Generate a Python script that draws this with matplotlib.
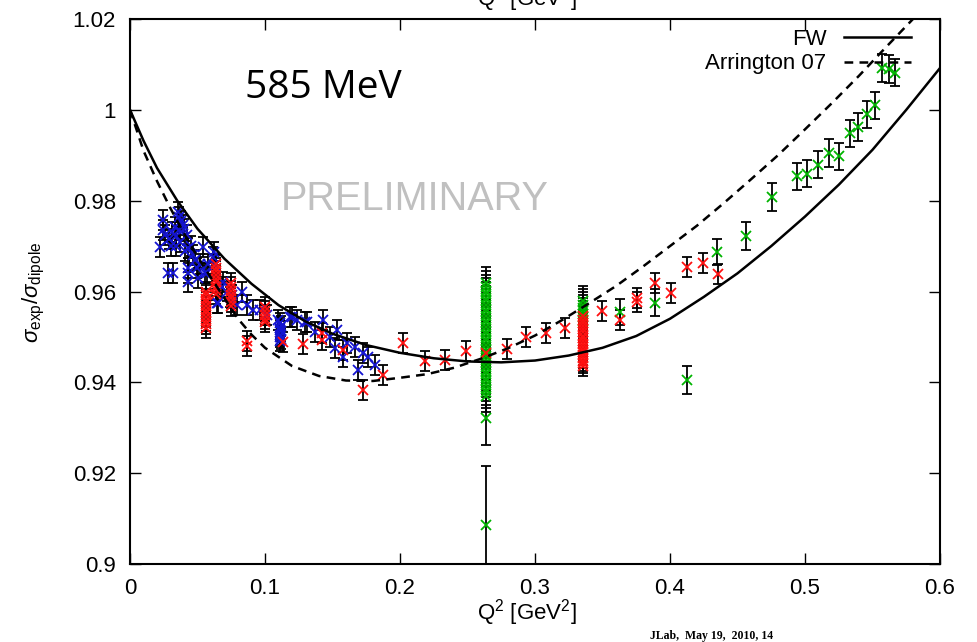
import numpy as np
import matplotlib
matplotlib.use("Agg")
import matplotlib.pyplot as plt

plt.rcParams['font.family'] = ['Liberation Sans', 'DejaVu Sans']
plt.rcParams['mathtext.fontset'] = 'custom'
plt.rcParams['mathtext.rm'] = 'Liberation Sans'
plt.rcParams['mathtext.it'] = 'Liberation Sans:italic'

# model curves
fw_q2 = [0, 0.01, 0.02, 0.035, 0.05, 0.07, 0.09, 0.11, 0.13, 0.15, 0.175, 0.2, 0.225,
         0.25, 0.275, 0.3, 0.325, 0.35, 0.375, 0.4, 0.425, 0.45, 0.475, 0.5, 0.525,
         0.55, 0.575, 0.6]
fw_r = [1.0, 0.9932, 0.9872, 0.9800, 0.9738, 0.9672, 0.9617, 0.9570, 0.9534, 0.9507,
        0.9482, 0.9465, 0.9453, 0.9446, 0.9444, 0.9448, 0.9459, 0.9476, 0.9502, 0.9540,
        0.9588, 0.9640, 0.9700, 0.9765, 0.9835, 0.9912, 1.0000, 1.0092]

ar_q2 = [0, 0.01, 0.02, 0.03, 0.04, 0.05, 0.06, 0.07, 0.08, 0.09, 0.1, 0.12, 0.14, 0.16,
         0.18, 0.2, 0.22, 0.24, 0.26, 0.28, 0.3, 0.32, 0.34, 0.36, 0.38, 0.4, 0.42, 0.44,
         0.46, 0.48, 0.5, 0.52, 0.54, 0.56, 0.58, 0.59]
ar_r = [1.0, 0.9910, 0.9843, 0.9783, 0.9728, 0.9677, 0.9630, 0.9585, 0.9540, 0.9505,
        0.9476, 0.9436, 0.9414, 0.9404, 0.9403, 0.9410, 0.9418, 0.9432, 0.9452, 0.9475,
        0.9503, 0.9537, 0.9574, 0.9612, 0.9655, 0.9700, 0.9745, 0.9795, 0.9847, 0.9900,
        0.9957, 1.0015, 1.0075, 1.0138, 1.0200, 1.0232]

# blue data set
blue_q2 = [0.0244, 0.022, 0.028, 0.032, 0.031, 0.0356, 0.033, 0.039, 0.042, 0.037, 0.043,
           0.043, 0.043, 0.043, 0.048, 0.054, 0.057, 0.0615, 0.062, 0.0644, 0.069, 0.074,
           0.083, 0.087, 0.091, 0.063, 0.0556, 0.0496, 0.065, 0.0756, 0.0963, 0.1015,
           0.1096, 0.111, 0.111, 0.1185, 0.124, 0.1296, 0.137, 0.12, 0.131, 0.143, 0.148,
           0.153, 0.152, 0.158, 0.161, 0.1667, 0.169, 0.1726, 0.176, 0.1815,
           0.026, 0.029, 0.034, 0.036, 0.038, 0.040, 0.030, 0.045, 0.047, 0.041, 0.036,
           0.034, 0.0245, 0.052, 0.050, 0.058, 0.068, 0.072, 0.079,
           0.111, 0.111, 0.111, 0.111, 0.112, 0.112, 0.112]
blue_r = [0.9757, 0.9698, 0.9641, 0.9641, 0.9731, 0.9775, 0.9742, 0.9746, 0.9724, 0.9709,
          0.9696, 0.9652, 0.9641, 0.9620, 0.9669, 0.9698, 0.9641, 0.9676, 0.9687, 0.9575,
          0.9620, 0.9588, 0.9599, 0.9570, 0.9559, 0.9658, 0.9641, 0.9652, 0.9575, 0.9592,
          0.9559, 0.9548, 0.9537, 0.9515, 0.9500, 0.9544, 0.9537, 0.9533, 0.9511, 0.9544,
          0.9533, 0.9537, 0.9500, 0.9515, 0.9476, 0.9456, 0.9487, 0.9478, 0.9427, 0.9465,
          0.9456, 0.9438,
          0.9725, 0.9715, 0.9722, 0.9735, 0.9755, 0.9738, 0.9700, 0.9700, 0.9680, 0.9690,
          0.9765, 0.9700, 0.9735, 0.9660, 0.9630, 0.9660, 0.9610, 0.9600, 0.9570,
          0.9490, 0.9505, 0.9520, 0.9530, 0.9495, 0.9512, 0.9525]
blue_err = [0.0022] * len(blue_r)

# red data set
red_q2 = ([0.0565] * 11 + [0.0635] * 9 + [0.0745] * 7 + [0.087] * 2 + [0.100] * 5 +
          [0.1133, 0.128, 0.142, 0.142, 0.158, 0.1726, 0.1874, 0.2022, 0.2185, 0.2333,
           0.249, 0.264, 0.2793, 0.2933, 0.308, 0.322] +
          [0.3356] * 18 +
          [0.3496, 0.363, 0.3756, 0.3756, 0.3889, 0.4007, 0.4126, 0.4244, 0.4356])
red_r = ([0.9520, 0.9528, 0.9536, 0.9544, 0.9552, 0.9560, 0.9568, 0.9576, 0.9584, 0.9592, 0.9600] +
         [0.9595, 0.9603, 0.9611, 0.9620, 0.9628, 0.9636, 0.9645, 0.9652, 0.9660] +
         [0.9568, 0.9576, 0.9585, 0.9593, 0.9601, 0.9610, 0.9618] +
         [0.9480, 0.9492] +
         [0.9532, 0.9540, 0.9549, 0.9557, 0.9566] +
         [0.9489, 0.9485, 0.9508, 0.9493, 0.9471, 0.9383, 0.9416, 0.9487, 0.9447, 0.9449,
          0.9469, 0.9465, 0.9473, 0.9500, 0.9509, 0.9520] +
         [0.9436, 0.9442, 0.9448, 0.9454, 0.9460, 0.9466, 0.9472, 0.9478, 0.9484, 0.9490,
          0.9497, 0.9503, 0.9510, 0.9517, 0.9524, 0.9531, 0.9538, 0.9545] +
         [0.9556, 0.9537, 0.9586, 0.9577, 0.9619, 0.9597, 0.9654, 0.9663, 0.9639])
red_err = [0.0022] * len(red_r)

# green data set
green_q2 = ([0.264] * 34 + [0.3356] * 7 +
            [0.363, 0.3889, 0.4126, 0.4348, 0.4563, 0.4756, 0.494, 0.5015, 0.5096, 0.5178,
             0.5252, 0.533, 0.539, 0.546, 0.552, 0.557, 0.562, 0.567])
green_r = ([0.9370, 0.9378, 0.9386, 0.9394, 0.9402, 0.9410, 0.9418, 0.9426, 0.9434, 0.9442,
            0.9450, 0.9458, 0.9466, 0.9474, 0.9482, 0.9490, 0.9498, 0.9506, 0.9514, 0.9522,
            0.9530, 0.9538, 0.9546, 0.9554, 0.9562, 0.9570, 0.9578, 0.9586, 0.9594, 0.9602,
            0.9610, 0.9618, 0.9321, 0.9086] +
           [0.9536, 0.9543, 0.9550, 0.9557, 0.9564, 0.9571, 0.9578] +
           [0.9555, 0.9575, 0.9405, 0.9687, 0.9722, 0.9808, 0.9854, 0.9859, 0.9879, 0.9905,
            0.9898, 0.9948, 0.9962, 0.9990, 1.0010, 1.0092, 1.0090, 1.0082])
green_err = ([0.0035] * 32 + [0.006, 0.013] + [0.0035] * 7 +
             [0.0028, 0.0030, 0.0030, 0.0028, 0.0030, 0.0030, 0.0030, 0.0030, 0.0030,
              0.0030, 0.0030, 0.0030, 0.0030, 0.0030, 0.0030, 0.0030, 0.0030, 0.0030])

xticks = [0, 0.1, 0.2, 0.3, 0.4, 0.5, 0.6]
xticklabels = ['0', '0.1', '0.2', '0.3', '0.4', '0.5', '0.6']
yticks = [0.9, 0.92, 0.94, 0.96, 0.98, 1.0, 1.02]
yticklabels = ['0.9', '0.92', '0.94', '0.96', '0.98', '1', '1.02']

fig = plt.figure(figsize=(9.77, 6.42), dpi=100)
ax = fig.add_axes([130 / 977, 1 - 564 / 642, 810 / 977, 545 / 642])

for q2, r, err, col in [(green_q2, green_r, green_err, '#00b400'),
                        (blue_q2, blue_r, blue_err, '#1414d2'),
                        (red_q2, red_r, red_err, '#ff1010')]:
    ax.errorbar(q2, r, yerr=err, fmt='none', ecolor='black', elinewidth=1.3,
                capsize=3.5, capthick=1.3, zorder=2)
    ax.plot(q2, r, 'x', color=col, ms=7, mew=1.3, zorder=3)

ax.plot(fw_q2, fw_r, '-', color='black', lw=1.8, label='FW', zorder=4)
ax.plot(ar_q2, ar_r, color='black', lw=1.8, ls=(0, (3.5, 2.5)), label='Arrington 07', zorder=4)

ax.set_xlim(0, 0.6)
ax.set_ylim(0.9, 1.02)
ax.set_xticks(xticks)
ax.set_xticklabels(xticklabels)
ax.set_yticks(yticks)
ax.set_yticklabels(yticklabels)
ax.tick_params(direction='in', length=8, width=1, top=True, right=True, labelsize=16)
ax.tick_params(axis='x', pad=10)
ax.tick_params(axis='y', pad=10)
for s in ax.spines.values():
    s.set_linewidth(1.5)

leg = ax.legend(loc='upper right', bbox_to_anchor=(0.975, 0.998), frameon=False,
                markerfirst=False, fontsize=16, handlelength=3.0, handletextpad=0.8,
                labelspacing=0.15, borderaxespad=0)

ax.text(245 / 977, 1 - 98 / 642, '585 MeV', transform=fig.transFigure, fontsize=28,
        family=['Open Sans', 'DejaVu Sans'], va='baseline', ha='left')
ax.text(415 / 977, 1 - 210 / 642, 'PRELIMINARY', transform=fig.transFigure, fontsize=28.5,
        color='#c0c0c0', va='baseline', ha='center')

fig.text(527 / 977, 1 - 620 / 642, r'Q$^2$ [GeV$^2$]', fontsize=16, ha='center', va='baseline')
fig.text(527 / 977, 1 - 5 / 642, r'Q$^2$ [GeV$^2$]', fontsize=16, ha='center', va='baseline')
fig.text(34 / 977, 1 - 292 / 642, r'$\sigma_{\rm exp}/\sigma_{\rm dipole}$', fontsize=16,
         rotation=90, ha='center', va='center')
fig.text(650 / 977, 1 - 639 / 642, 'JLab,  May 19,  2010, 14', fontsize=8.5, weight='bold',
         family=['Liberation Serif'], ha='left', va='baseline')

fig.savefig('out.png', dpi=100)
